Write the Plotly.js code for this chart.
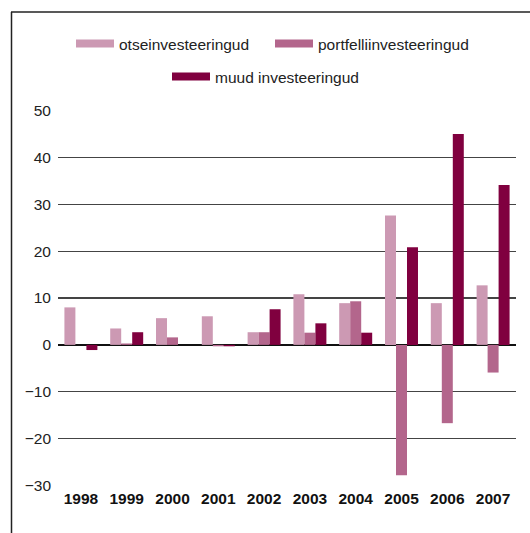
<!DOCTYPE html>
<html><head><meta charset="utf-8">
<script src="https://cdn.plot.ly/plotly-3.0.1.min.js"></script>
<style>html,body{margin:0;padding:0;background:#fff}#chart{width:530px;height:533px}</style>
</head><body><div id="chart"></div>
<script>
const years = ['1998','1999','2000','2001','2002','2003','2004','2005','2006','2007'];
const otsein = [8.0, 3.5, 5.7, 6.1, 2.7, 10.8, 8.9, 27.6, 8.9, 12.7];
const portfelli = [0, 0.3, 1.6, -0.3, 2.7, 2.6, 9.3, -27.8, -16.7, -5.9];
const muud = [-1.1, 2.7, 0, -0.3, 7.6, 4.6, 2.6, 20.8, 45.0, 34.1];
const names = ['otseinvesteeringud', 'portfelliinvesteeringud', 'muud investeeringud'];
const colors = ['#cc99b3', '#b3668c', '#80003f'];
const series = [otsein, portfelli, muud];

const W = 530, H = 533, mL = 58, mR = 14, mT = 110, mB = 47;
const pw = W - mL - mR, ph = H - mT - mB;
const px = x => (x - mL) / pw;
const py = y => (H - mB - y) / ph;

const traces = [];
series.forEach((s, i) => {
  traces.push({type: 'bar', x: years, y: s, name: names[i], marker: {color: colors[i]}, showlegend: false, hoverinfo: 'y'});
});
series.forEach((s, i) => {
  traces.push({type: 'scatter', mode: 'lines', x: [null], y: [null], name: names[i],
    line: {color: colors[i], width: 8}, legend: i < 2 ? 'legend' : 'legend2', hoverinfo: 'skip'});
});

const font = {family: 'Liberation Sans, Arial, sans-serif', size: 15.5, color: '#222'};
const layout = {
  width: W, height: H,
  margin: {l: mL, r: mR, t: mT, b: mB},
  paper_bgcolor: '#fff', plot_bgcolor: '#fff',
  font: font,
  barmode: 'group', bargap: 0.28, bargroupgap: 0,
  xaxis: {type: 'category', showgrid: false, showline: false, zeroline: false, ticks: '',
    tickfont: {family: 'Liberation Sans, Arial, sans-serif', size: 15.5, color: '#111', weight: 'bold'}, ticklabelstandoff: 1, fixedrange: true},
  yaxis: {range: [-30.1, 50.1], dtick: 10, tick0: 0, showgrid: true, gridcolor: '#444', gridwidth: 1.2,
    zeroline: true, zerolinecolor: '#111', zerolinewidth: 1.5, showline: false, ticks: '', ticklabelstandoff: 6, fixedrange: true,
    tickfont: font},
  showlegend: true,
  legend: {orientation: 'h', xref: 'container', yref: 'container', x: 71/W, y: 1 - 27/H, xanchor: 'left', yanchor: 'top',
    font: font, itemwidth: 38, entrywidth: 146, bgcolor: 'rgba(0,0,0,0)', tracegroupgap: 0},
  legend2: {orientation: 'h', xref: 'container', yref: 'container', x: 167/W, y: 1 - 60/H, xanchor: 'left', yanchor: 'top',
    font: font, itemwidth: 38, bgcolor: 'rgba(0,0,0,0)'},
  shapes: [
    {type: 'line', xref: 'paper', yref: 'paper', x0: px(11.5), x1: px(11.5), y0: py(12), y1: py(534), line: {color: '#222', width: 1.5}},
    {type: 'line', xref: 'paper', yref: 'paper', x0: px(11), x1: px(531), y0: py(12), y1: py(12), line: {color: '#222', width: 1.5}}
  ]
};
Plotly.newPlot('chart', traces, layout, {displayModeBar: false, staticPlot: true});
</script></body></html>
